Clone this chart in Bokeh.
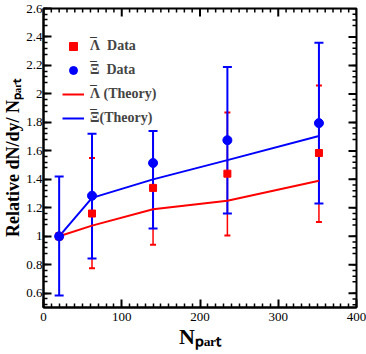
import math
from bokeh.plotting import figure
from bokeh.models import (ColumnDataSource, LinearAxis, FixedTicker, CustomJSTickFormatter,
                          Legend, LegendItem, Label, Range1d)
from bokeh.embed import file_html
from bokeh.resources import INLINE

# ---- data ----
npart = [20, 62, 140, 235, 352]
lam_data = [1.0, 1.16, 1.34, 1.44, 1.585]
lam_lower = [1.0, 0.775, 0.94, 1.005, 1.10]
lam_upper = [1.0, 1.55, 1.74, 1.87, 2.06]
xi_data = [1.0, 1.285, 1.515, 1.675, 1.795]
xi_lower = [0.585, 0.845, 1.055, 1.16, 1.23]
xi_upper = [1.42, 1.72, 1.74, 2.19, 2.36]
lam_theory = [1.0, 1.075, 1.19, 1.25, 1.39]
xi_theory = [1.0, 1.27, 1.40, 1.535, 1.705]
legend_labels = ["\u039b  Data", "\u039e  Data", "\u039b (Theory)", "\u039e(Theory)"]
x_title = "N\u209a\u2090\u1d63\u209c"
y_title = "Relative dN/dy/ N\u209a\u2090\u1d63\u209c"

x_major = [0, 100, 200, 300, 400]
x_minor = [v for v in range(0, 401, 10) if v % 100 != 0]
y_major = [0.6, 0.8, 1.0, 1.2, 1.4, 1.6, 1.8, 2.0, 2.2, 2.4, 2.6]
y_minor = [round(0.52 + 0.04 * i, 2) for i in range(53) if (i + 2) % 5 != 0]

X_MIN, X_MAX = 0, 400
Y_MIN, Y_MAX = 0.5, 2.6

src = ColumnDataSource(dict(x=npart, lam=lam_data, llo=lam_lower, lhi=lam_upper,
                            xi=xi_data, xlo=xi_lower, xhi=xi_upper,
                            lth=lam_theory, xth=xi_theory))

p = figure(width=366, height=354, x_range=Range1d(X_MIN, X_MAX), y_range=Range1d(Y_MIN, Y_MAX),
           output_backend="svg", toolbar_location=None,
           x_axis_location=None, y_axis_location=None,
           min_border_left=41, min_border_right=10, min_border_top=8, min_border_bottom=47)
p.xgrid.visible = False
p.ygrid.visible = False
p.outline_line_color = "black"
p.outline_line_width = 2
p.background_fill_color = "white"

fmt = CustomJSTickFormatter(code="return String(parseFloat(tick.toFixed(2)));")
FONT = "Liberation Serif"


def make_axis(ticks, minor, title, title_size, label_standoff):
    ax = LinearAxis(ticker=FixedTicker(ticks=ticks, minor_ticks=minor), formatter=fmt)
    ax.major_tick_in = 8
    ax.major_tick_out = 0
    ax.minor_tick_in = 4
    ax.minor_tick_out = 0
    ax.axis_line_width = 2
    ax.axis_line_color = "black"
    ax.major_tick_line_width = 2
    ax.minor_tick_line_width = 1.5
    ax.major_tick_line_color = "black"
    ax.minor_tick_line_color = "black"
    ax.major_label_text_font = FONT
    ax.major_label_text_font_size = "13px"
    ax.major_label_text_color = "black"
    ax.major_label_standoff = label_standoff
    ax.axis_label = title
    ax.axis_label_text_font = FONT
    ax.axis_label_text_font_style = "bold"
    ax.axis_label_text_font_size = title_size
    ax.axis_label_text_color = "black"
    ax.axis_label_standoff = 0
    return ax


p.add_layout(make_axis(x_major, x_minor, x_title, "22px", 5), "below")
p.add_layout(make_axis(y_major, y_minor, y_title, "18px", 1), "left")

# inward ticks on the top and right edges (outer halves are clipped by the frame)
p.scatter(x=x_major, y=[Y_MAX] * len(x_major), marker="dash", angle=math.pi / 2,
          size=16, line_color="black", line_width=2)
p.scatter(x=x_minor, y=[Y_MAX] * len(x_minor), marker="dash", angle=math.pi / 2,
          size=8, line_color="black", line_width=1.5)
p.scatter(x=[X_MAX] * len(y_major), y=y_major, marker="dash",
          size=16, line_color="black", line_width=2)
p.scatter(x=[X_MAX] * len(y_minor), y=y_minor, marker="dash",
          size=8, line_color="black", line_width=1.5)

# error bars
p.segment(x0="x", y0="llo", x1="x", y1="lhi", source=src, line_color="red", line_width=1.5)
p.scatter(x="x", y="llo", source=src, marker="dash", size=6, line_color="red", line_width=2)
p.scatter(x="x", y="lhi", source=src, marker="dash", size=6, line_color="red", line_width=2)
p.segment(x0="x", y0="xlo", x1="x", y1="xhi", source=src, line_color="blue", line_width=2)
p.scatter(x="x", y="xlo", source=src, marker="dash", size=9, line_color="blue", line_width=2)
p.scatter(x="x", y="xhi", source=src, marker="dash", size=9, line_color="blue", line_width=2)

# theory lines
r_lth = p.line(x="x", y="lth", source=src, line_color="red", line_width=2)
r_xth = p.line(x="x", y="xth", source=src, line_color="blue", line_width=2)

# data points
r_lam = p.scatter(x="x", y="lam", source=src, marker="square", size=7, color="red")
r_xi = p.scatter(x="x", y="xi", source=src, marker="circle", size=9, color="blue")

legend = Legend(items=[LegendItem(label=t, renderers=[r])
                       for t, r in zip(legend_labels, [r_lam, r_xi, r_lth, r_xth])],
                location=(19, 179))
legend.label_text_font = FONT
legend.label_text_font_style = "bold"
legend.label_text_font_size = "14px"
legend.glyph_width = 22
legend.glyph_height = 20
legend.label_height = 20
legend.spacing = 4
legend.label_standoff = 6
legend.padding = 0
legend.margin = 0
legend.background_fill_alpha = 0
legend.border_line_alpha = 0
p.add_layout(legend)

# anti-particle bars over the Greek letters of the legend (frame-relative screen units)
for i in range(4):
    p.add_layout(Label(x=47, y=271 - 10 - 24 * i + 1, x_units="screen", y_units="screen",
                       text="\u203e", text_font=FONT, text_font_style="bold",
                       text_font_size="18px", text_baseline="middle", text_color="black"))

open("out.html", "w").write(file_html(p, INLINE))
